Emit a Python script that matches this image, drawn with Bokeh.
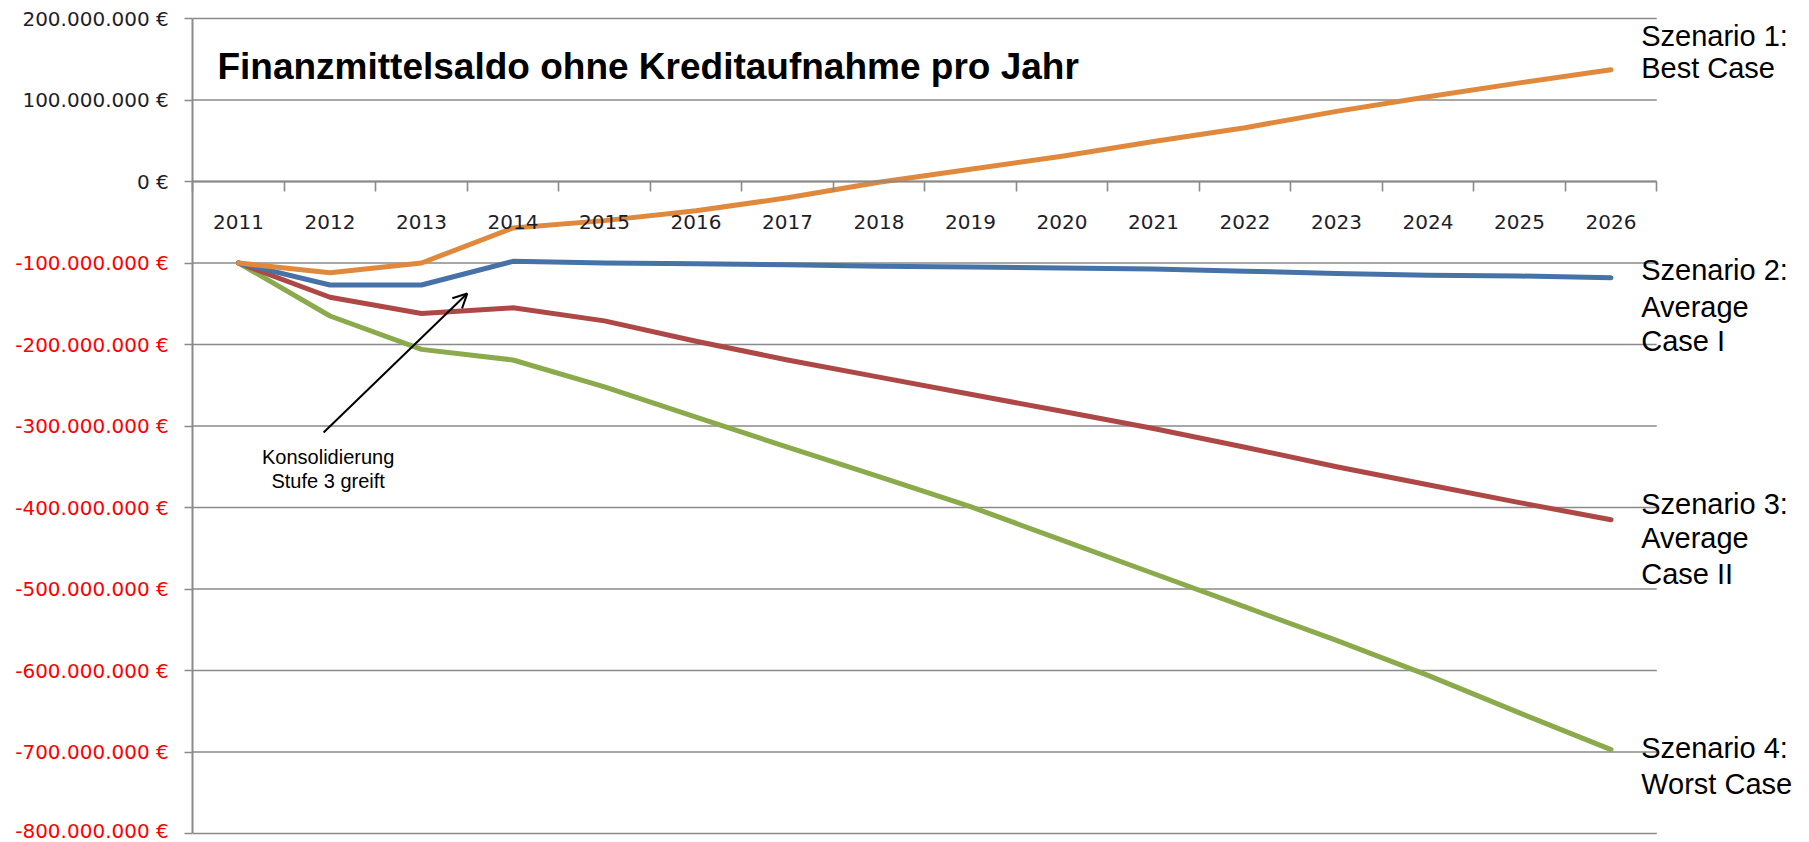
from bokeh.plotting import figure
from bokeh.models import LinearAxis, FixedTicker, Range1d, Label, Arrow, OpenHead
from bokeh.embed import file_html
from bokeh.resources import INLINE

# ---------------- data (values in million €) ----------------
years = [2011, 2012, 2013, 2014, 2015, 2016, 2017, 2018,
         2019, 2020, 2021, 2022, 2023, 2024, 2025, 2026]
year_labels = ["2011", "2012", "2013", "2014", "2015", "2016", "2017", "2018",
               "2019", "2020", "2021", "2022", "2023", "2024", "2025", "2026"]

best_case = [-100, -112, -100, -57, -48, -36, -20, -1,
             15, 31, 49, 66, 86, 104, 121, 137]
average_case_1 = [-100, -127, -127, -98, -100, -101, -102, -104,
                  -105, -106, -107.5, -110, -113, -115, -116, -118]
average_case_2 = [-100, -142, -162, -155, -171, -196, -219, -240,
                  -261, -282, -303, -326, -350, -372, -394, -415]
worst_case = [-100, -165, -206, -219, -252, -289, -326, -362,
              -399, -440, -481, -522, -563, -606, -652, -697]

ytick_values = [200, 100, 0, -100, -200, -300, -400, -500, -600, -700, -800]
ytick_labels = ["200.000.000 €", "100.000.000 €", "0 €", "-100.000.000 €",
                "-200.000.000 €", "-300.000.000 €", "-400.000.000 €",
                "-500.000.000 €", "-600.000.000 €", "-700.000.000 €",
                "-800.000.000 €"]

title_text = "Finanzmittelsaldo ohne Kreditaufnahme pro Jahr"
scenario_texts = [["Szenario 1:", "Best Case"],
                  ["Szenario 2:", "Average", "Case I"],
                  ["Szenario 3:", "Average", "Case II"],
                  ["Szenario 4:", "Worst Case"]]
note_texts = ["Konsolidierung", "Stufe 3 greift"]

# ---------------- styling / layout ----------------
GRAY = "#8a8a8a"
C_BEST = "#E0883C"
C_AVG1 = "#4672A8"
C_AVG2 = "#AE4846"
C_WORST = "#8BAA4C"
TICK_FONT = "DejaVu Sans"
TEXT_FONT = "Liberation Sans"

W, H = 1800, 842
X0_PX, X_STEP = 238.0, 91.5      # pixel of first category, pixels per category
Y0_PX, Y_SCALE = 181.0, 0.815    # pixel of value 0, pixels per million

x_start = years[0] - X0_PX / X_STEP
x_end = years[0] + (W - X0_PX) / X_STEP
y_top = Y0_PX / Y_SCALE
y_bottom = (Y0_PX - H) / Y_SCALE

left_edge = years[0] - 0.5
right_edge = years[-1] + 0.5
y_min, y_max = min(ytick_values), max(ytick_values)

p = figure(width=W, height=H,
           x_range=Range1d(x_start, x_end),
           y_range=Range1d(y_bottom, y_top),
           x_axis_type=None, y_axis_type=None,
           output_backend="svg", toolbar_location=None,
           min_border=0, min_border_left=0, min_border_right=0,
           min_border_top=0, min_border_bottom=0)
p.outline_line_color = None
p.background_fill_color = "white"
p.border_fill_color = "white"

# horizontal gridlines, limited to the plot area
n = len(ytick_values)
p.segment(x0=[left_edge] * n, x1=[right_edge] * n, y0=ytick_values, y1=ytick_values,
          line_color=GRAY, line_width=1.6)

label_map = dict(zip(ytick_values, ytick_labels))

def y_axis(ticks, color, show_line):
    ax = LinearAxis(ticker=FixedTicker(ticks=ticks),
                    fixed_location=left_edge,
                    bounds=(y_min, y_max),
                    major_label_overrides={t: label_map[t] for t in ticks},
                    major_tick_out=8, major_tick_in=0,
                    minor_tick_out=0, minor_tick_in=0,
                    major_tick_line_color=GRAY, major_tick_line_width=1.6,
                    axis_line_color=GRAY if show_line else None,
                    axis_line_width=2,
                    major_label_standoff=16,
                    major_label_text_color=color,
                    major_label_text_font=TICK_FONT,
                    major_label_text_font_size="20px")
    p.add_layout(ax, "left")

y_axis([t for t in ytick_values if t < 0], "#FF0000", True)
y_axis([t for t in ytick_values if t >= 0], "#1E1E2A", False)

# x axis drawn at y = 0: ticks between categories, labels at categories
boundaries = [y - 0.5 for y in years] + [right_edge]
x_ticks_axis = LinearAxis(ticker=FixedTicker(ticks=boundaries),
                          fixed_location=0,
                          bounds=(left_edge, right_edge),
                          major_label_overrides={b: "" for b in boundaries},
                          major_tick_out=10, major_tick_in=0,
                          minor_tick_out=0, minor_tick_in=0,
                          major_tick_line_color=GRAY, major_tick_line_width=1.6,
                          axis_line_color=GRAY, axis_line_width=2,
                          major_label_text_font_size="1px")
p.add_layout(x_ticks_axis, "below")

x_label_axis = LinearAxis(ticker=FixedTicker(ticks=years),
                          fixed_location=0,
                          bounds=(left_edge, right_edge),
                          major_label_overrides=dict(zip(years, year_labels)),
                          major_tick_out=0, major_tick_in=0,
                          minor_tick_out=0, minor_tick_in=0,
                          axis_line_color=None,
                          major_label_standoff=33,
                          major_label_text_color="#1E1E2A",
                          major_label_text_font=TICK_FONT,
                          major_label_text_font_size="20px")
p.add_layout(x_label_axis, "below")

# series
for vals, col in [(worst_case, C_WORST), (average_case_2, C_AVG2),
                  (average_case_1, C_AVG1), (best_case, C_BEST)]:
    p.line(years, vals, line_color=col, line_width=5,
           line_join="round", line_cap="round")

# title inside the plot
p.add_layout(Label(x=2010.77, y=141, text=title_text,
                   text_font=TEXT_FONT, text_font_style="bold",
                   text_font_size="37px", text_color="black",
                   text_baseline="middle", text_align="left"))

# scenario labels at the right
scenario_y = [[179, 138.7],
              [-109.2, -153.4, -195.1],
              [-395.1, -438, -481],
              [-695.7, -738.7]]
for lines, ys in zip(scenario_texts, scenario_y):
    for t, yy in zip(lines, ys):
        p.add_layout(Label(x=2026.33, y=yy, text=t,
                           text_font=TEXT_FONT, text_font_size="29px",
                           text_color="black", text_align="left",
                           text_baseline="middle"))

# annotation with arrow
p.add_layout(Arrow(end=OpenHead(size=14, line_width=2, line_color="black"),
                   x_start=2011.93, y_start=-308, x_end=2013.5, y_end=-137.5,
                   line_color="black", line_width=2))
for t, yy in zip(note_texts, [-338.6, -367]):
    p.add_layout(Label(x=2011.98, y=yy, text=t,
                       text_font=TEXT_FONT, text_font_size="20px",
                       text_color="black", text_align="center",
                       text_baseline="middle"))

open("out.html", "w").write(file_html(p, INLINE))
